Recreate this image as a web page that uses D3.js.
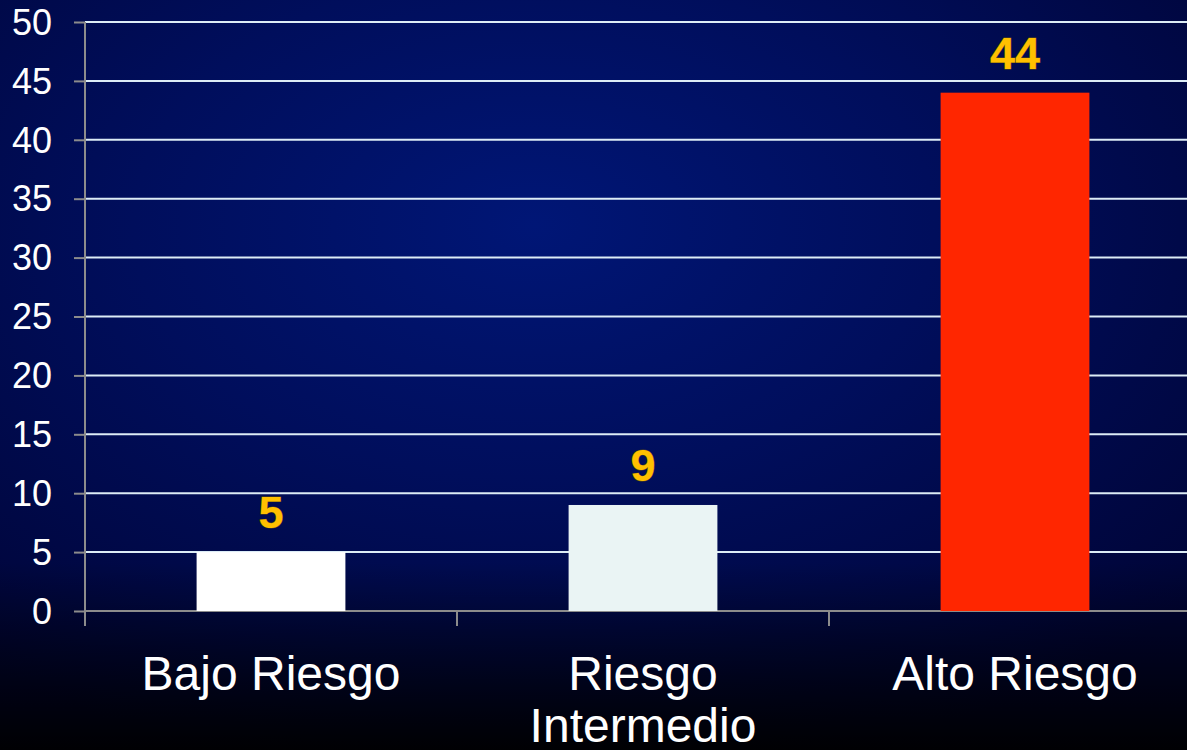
<!DOCTYPE html>
<html>
<head>
<meta charset="utf-8">
<script src="https://cdn.jsdelivr.net/npm/d3@7"></script>
<style>
  html, body { margin: 0; padding: 0; background: #000630; }
  svg { display: block; font-family: "Liberation Sans", Arial, sans-serif; }
</style>
</head>
<body>
<div id="chart"></div>
<script>
const categories = [["Bajo Riesgo"], ["Riesgo", "Intermedio"], ["Alto Riesgo"]];
const values = [5, 9, 44];
const barColors = ["#ffffff", "#eaf4f4", "#ff2600"];
const yTicks = [0, 5, 10, 15, 20, 25, 30, 35, 40, 45, 50];

const width = 1187, height = 750;
const margin = {top: 22, right: -14, bottom: 139, left: 85};

const svg = d3.select('#chart').append('svg')
    .attr('width', width).attr('height', height);

const defs = svg.append('defs');
const rg = defs.append('radialGradient').attr('id', 'bg')
    .attr('cx', 0.45).attr('cy', 0.3).attr('r', 0.75);
rg.append('stop').attr('offset', '0%').attr('stop-color', '#001676');
rg.append('stop').attr('offset', '45%').attr('stop-color', '#000e5c');
rg.append('stop').attr('offset', '100%').attr('stop-color', '#000436');
const lg = defs.append('linearGradient').attr('id', 'fade')
    .attr('x1', 0).attr('y1', 0).attr('x2', 0).attr('y2', 1);
lg.append('stop').attr('offset', '0.75').attr('stop-color', '#000').attr('stop-opacity', 0);
lg.append('stop').attr('offset', '1').attr('stop-color', '#000').attr('stop-opacity', 0.95);

svg.append('rect').attr('width', width).attr('height', height).attr('fill', 'url(#bg)');
svg.append('rect').attr('width', width).attr('height', height).attr('fill', 'url(#fade)');

const x = d3.scaleBand()
    .domain(d3.range(categories.length))
    .range([margin.left, width - margin.right])
    .paddingInner(0.6).paddingOuter(0.3);
const y = d3.scaleLinear().domain([0, 50]).range([height - margin.bottom, margin.top]);

// gridlines
svg.append('g').selectAll('line').data(yTicks.filter(d => d > 0)).join('line')
    .attr('x1', margin.left).attr('x2', width)
    .attr('y1', d => y(d)).attr('y2', d => y(d))
    .attr('stroke', '#dcecf6').attr('stroke-width', 2);

// y axis
const axisY = svg.append('g').attr('transform', `translate(${margin.left},0)`)
    .call(d3.axisLeft(y).tickValues(yTicks).tickSize(11).tickPadding(22));
axisY.select('.domain').attr('stroke', '#8c8c8c').attr('stroke-width', 2)
    .attr('d', `M0,${y(50)}V${y(0) + 15}`);
axisY.selectAll('.tick line').attr('stroke', '#8c8c8c').attr('stroke-width', 2);
axisY.selectAll('.tick text').attr('fill', '#ffffff').attr('font-size', 36)
    .attr('dy', '0.34em')
    .attr('font-family', '"Liberation Sans", Arial, sans-serif');

// x axis line and ticks
const xAxis = svg.append('g');
xAxis.append('line').attr('x1', margin.left).attr('x2', width)
    .attr('y1', y(0)).attr('y2', y(0))
    .attr('stroke', '#8c8c8c').attr('stroke-width', 2);
xAxis.selectAll('line.tk').data(d3.range(categories.length)).join('line')
    .classed('tk', true)
    .attr('x1', i => x(i) - x.step() * 0.3).attr('x2', i => x(i) - x.step() * 0.3)
    .attr('y1', y(0)).attr('y2', y(0) + 15)
    .attr('stroke', '#8c8c8c').attr('stroke-width', 2);

// bars
svg.append('g').selectAll('rect').data(values).join('rect')
    .attr('x', (d, i) => x(i)).attr('width', x.bandwidth())
    .attr('y', d => y(d)).attr('height', d => y(0) - y(d))
    .attr('fill', (d, i) => barColors[i]);

// value labels
svg.append('g').selectAll('text').data(values).join('text')
    .attr('x', (d, i) => x(i) + x.bandwidth() / 2)
    .attr('y', d => y(d) - 24)
    .attr('text-anchor', 'middle')
    .attr('font-size', 45).attr('font-weight', 'bold')
    .attr('fill', '#ffc000').attr('stroke', '#5a4a10').attr('stroke-width', 1)
    .attr('paint-order', 'stroke')
    .text(d => d);

// category labels
const cat = svg.append('g').selectAll('text').data(categories).join('text')
    .attr('x', (d, i) => x(i) + x.bandwidth() / 2)
    .attr('y', 690)
    .attr('text-anchor', 'middle')
    .attr('font-size', 48).attr('fill', '#ffffff');
cat.selectAll('tspan').data(d => d).join('tspan')
    .attr('x', function(){ return this.parentNode.getAttribute('x'); })
    .attr('dy', (d, i) => i === 0 ? 0 : 52)
    .text(d => d);
</script>
</body>
</html>
